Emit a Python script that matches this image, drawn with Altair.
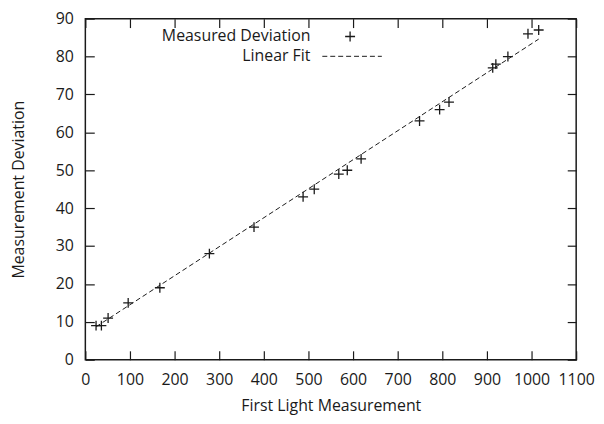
import altair as alt
import pandas as pd

x_meas = [24, 36, 51, 96, 167, 278, 378, 488, 513, 568, 587, 618, 749, 794, 815, 913, 920, 947, 992, 1016]
y_meas = [9, 9, 11, 15, 19, 28, 35, 43, 45, 49, 50, 53, 63, 66, 68, 77, 78, 80, 86, 87]

# Linear fit end points
fit_x = [24, 1016]
fit_y = [8.7, 84.6]

x_ticks = [0, 100, 200, 300, 400, 500, 600, 700, 800, 900, 1000, 1100]
y_ticks = [0, 10, 20, 30, 40, 50, 60, 70, 80, 90]

legend_labels = ["Measured Deviation", "Linear Fit"]

W, H = 495, 344
FONT = "Open Sans"
INK = "#1a1a1a"

meas = pd.DataFrame({"x": x_meas, "y": y_meas})
fit = pd.DataFrame({"x": fit_x, "y": fit_y})

xs = alt.Scale(domain=[0, 1100], nice=False, zero=False)
ys = alt.Scale(domain=[0, 90], nice=False, zero=False)

plus = "M-1,0H1M0,-1V1"

# Layer 1: points with labelled bottom/left axes (no ticks)
pts = alt.Chart(meas).mark_point(shape=plus, size=100, filled=False, color=INK, strokeWidth=1.3, opacity=1).encode(
    x=alt.X("x:Q", scale=xs, title="First Light Measurement",
            axis=alt.Axis(orient="bottom", values=x_ticks, ticks=False, domain=False, grid=False, format="d",
                          labelPadding=12, titlePadding=10, labelFlush=False, labelOverlap=False)),
    y=alt.Y("y:Q", scale=ys, title="Measurement Deviation",
            axis=alt.Axis(orient="left", values=y_ticks, ticks=False, domain=False, grid=False, format="d",
                          labelPadding=12, titlePadding=29, labelFlush=False, labelOverlap=False)),
)

# Layer 2: fit line; its axes provide inward ticks on bottom and left edges
line = alt.Chart(fit).mark_line(color=INK, strokeWidth=1, strokeDash=[5, 3]).encode(
    x=alt.X("x:Q", scale=xs, title=None,
            axis=alt.Axis(orient="top", offset=-H, values=x_ticks, labels=False, domain=False,
                          grid=False, ticks=True, tickSize=9, tickColor=INK, tickWidth=1.2)),
    y=alt.Y("y:Q", scale=ys, title=None,
            axis=alt.Axis(orient="right", offset=-W, values=y_ticks, labels=False, domain=False,
                          grid=False, ticks=True, tickSize=9, tickColor=INK, tickWidth=1.2)),
)

# Layer 3: invisible copy whose axes give inward ticks on top and right edges
ghost = alt.Chart(fit).mark_line(opacity=0).encode(
    x=alt.X("x:Q", scale=xs, title=None,
            axis=alt.Axis(orient="bottom", offset=-H, values=x_ticks, labels=False, domain=False,
                          grid=False, ticks=True, tickSize=9, tickColor=INK, tickWidth=1.2)),
    y=alt.Y("y:Q", scale=ys, title=None,
            axis=alt.Axis(orient="left", offset=-W, values=y_ticks, labels=False, domain=False,
                          grid=False, ticks=True, tickSize=9, tickColor=INK, tickWidth=1.2)),
)

# Manual legend (gnuplot style: label then sample)
leg_df = pd.DataFrame({"label": legend_labels})
leg_text1 = alt.Chart(leg_df.iloc[[0]]).mark_text(align="right", baseline="middle", font=FONT, fontSize=16, color=INK).encode(
    text="label:N", x=alt.value(227), y=alt.value(18)
)
leg_text2 = alt.Chart(leg_df.iloc[[1]]).mark_text(align="right", baseline="middle", font=FONT, fontSize=16, color=INK).encode(
    text="label:N", x=alt.value(227), y=alt.value(38)
)
leg_pt = alt.Chart(leg_df.iloc[[0]]).mark_point(shape=plus, size=100, filled=False, color=INK, strokeWidth=1.3, opacity=1).encode(
    x=alt.value(267), y=alt.value(18)
)
leg_line = alt.Chart(leg_df.iloc[[1]]).mark_rule(color=INK, strokeWidth=1, strokeDash=[5, 3]).encode(
    x=alt.value(239), x2=alt.value(299), y=alt.value(38)
)

chart = alt.layer(pts, line, ghost, leg_text1, leg_text2, leg_pt, leg_line).resolve_axis(
    x="independent", y="independent"
).properties(
    width=W, height=H,
    background="white",
    autosize=alt.AutoSizeParams(type="none"),
    padding={"left": 78, "top": 9, "right": 20, "bottom": 55},
).configure_view(stroke=INK, strokeWidth=1.5).configure_axis(
    labelFont=FONT, titleFont=FONT, labelFontSize=16, titleFontSize=16,
    labelColor=INK, titleColor=INK, titleFontWeight="normal",
)

chart.save("out.html", embed_options={"renderer": "svg", "actions": False})
